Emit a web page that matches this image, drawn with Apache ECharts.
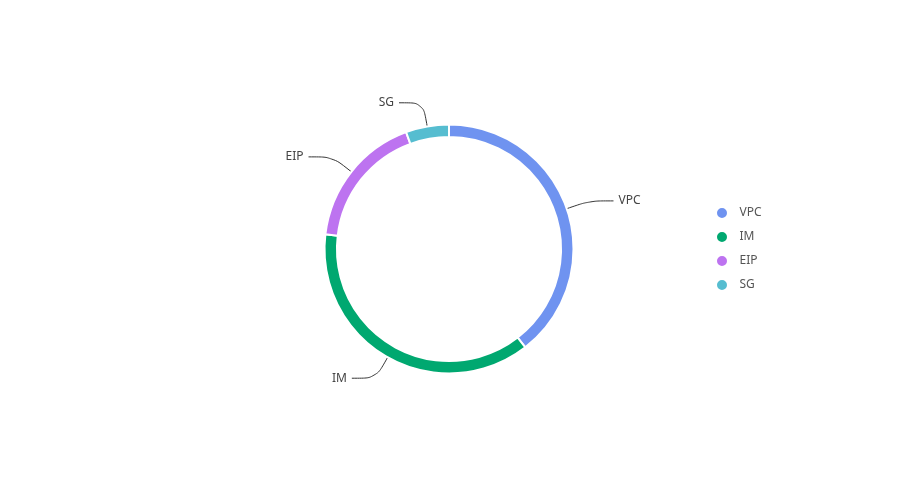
<!DOCTYPE html>
<html>
<head>
<meta charset="utf-8">
<script src="https://cdn.jsdelivr.net/npm/echarts@6/dist/echarts.min.js"></script>
<style>html,body{margin:0;padding:0;background:#fff}#c{width:898px;height:498px}</style>
</head>
<body>
<div id="c"></div>
<script>
const categories = ['VPC', 'IM', 'EIP', 'SG'];
const values = [39.5, 37.4, 17.5, 5.6];
const colors = ['#6f93f0', '#00a870', '#bd73f0', '#56bdd0'];

const chart = echarts.init(document.getElementById('c'));
chart.setOption({
  color: colors,
  textStyle: { fontFamily: 'Noto Sans, sans-serif' },
  legend: {
    orient: 'vertical',
    left: 710,
    top: 'middle',
    icon: 'circle',
    itemWidth: 25,
    itemHeight: 12,
    itemGap: 10,
    textStyle: { color: '#555', fontSize: 12 },
    data: categories
  },
  series: [{
    type: 'pie',
    center: ['50%', '50%'],
    radius: ['45%', '50%'],
    startAngle: 90,
    clockwise: true,
    avoidLabelOverlap: true,
    itemStyle: { borderColor: '#fff', borderWidth: 2 },
    label: { show: true, color: '#444', fontSize: 12 },
    labelLine: { show: true, length: 24, length2: 24, smooth: true, lineStyle: { color: '#333' } },
    data: categories.map((n, i) => ({ name: n, value: values[i] }))
  }]
});
</script>
</body>
</html>
